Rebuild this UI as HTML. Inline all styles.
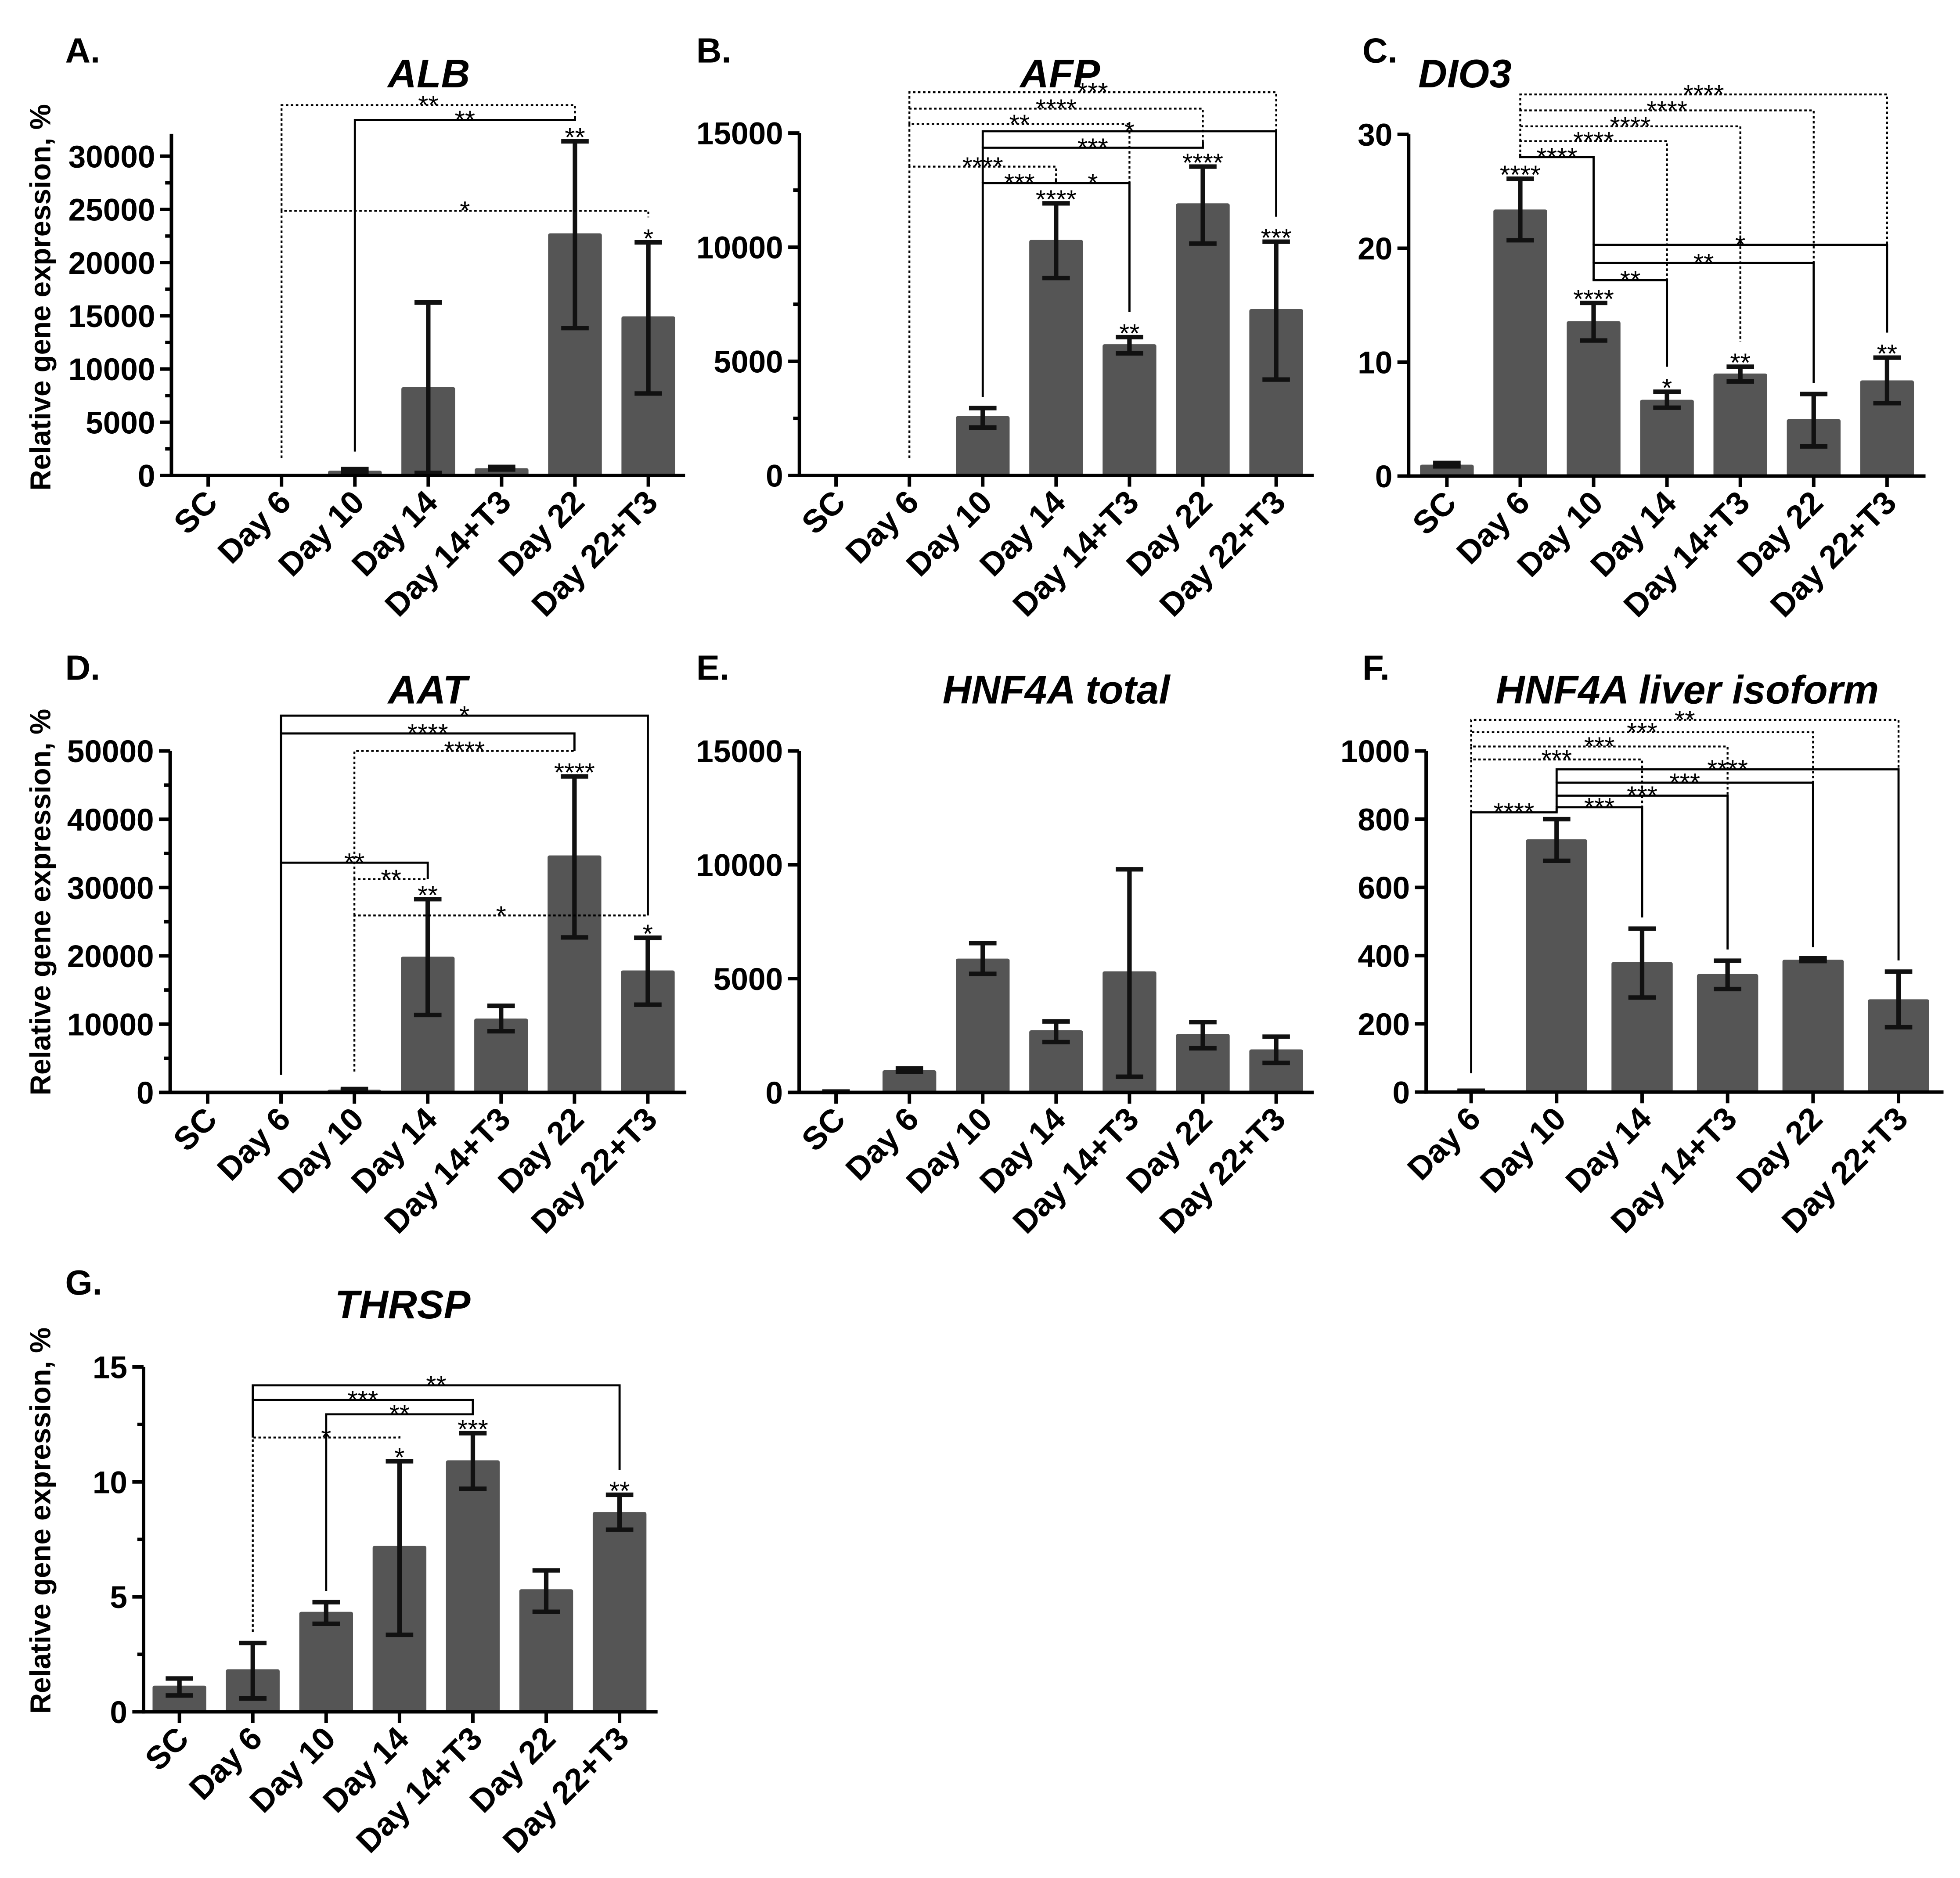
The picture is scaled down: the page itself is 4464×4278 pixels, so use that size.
<!DOCTYPE html>
<html><head><meta charset="utf-8">
<style>
html,body{margin:0;padding:0;background:#fff;}
svg{display:block;}
text{font-family:"Liberation Sans",Arial,sans-serif;}
</style></head>
<body>
<svg id="fig" width="4464" height="4278" viewBox="0 0 1568 1503" xmlns="http://www.w3.org/2000/svg">
<rect x="0" y="0" width="1568" height="1503" fill="#fff"/>
</svg>
<script>
// ---------- data ----------
const cats7 = ['SC','Day 6','Day 10','Day 14','Day 14+T3','Day 22','Day 22+T3'];
const catsF = ['Day 6','Day 10','Day 14','Day 14+T3','Day 22','Day 22+T3'];

const valsA = [0,0,450,8300,680,22750,14950];
const hiA = [0,0,600,16250,800,31400,21900];
const loA = [0,0,300,240,560,13850,7700];
const starsA = ['','','','','','**','*'];
const brFromA = [1,2,1];
const brToA = [5,5,6];
const brLevelA = [34800,33400,24870];
const brLabelA = ['**','**','*'];
const brDotA = [1,0,1];

const valsB = [0,0,2600,10320,5750,11920,7290];
const hiB = [0,0,2950,11920,6060,13530,10240];
const loB = [0,0,2100,8650,5350,10160,4200];
const starsB = ['','','','****','**','****','***'];
const brFromB = [1,1,1,2,2,1,2,3];
const brToB = [6,5,4,6,5,3,3,4];
const brLevelB = [16790,16070,15400,15080,14360,13530,12810,12810];
const brLabelB = ['***','****','**','*','***','****','***','*'];
const brDotB = [1,1,1,0,0,1,0,0];

const valsC = [1.0,23.4,13.6,6.7,9.0,5.0,8.4];
const hiC = [1.15,26.1,15.2,7.4,9.6,7.2,10.4];
const loC = [0.85,20.7,11.9,6.0,8.3,2.6,6.4];
const starsC = ['','****','****','*','**','','**'];
const brFromC = [1,1,1,1,1,2,2,2];
const brToC = [6,5,4,3,2,6,5,3];
const brLevelC = [33.5,32.1,30.7,29.4,28.0,20.3,18.7,17.2];
const brLabelC = ['****','****','****','****','****','*','**','**'];
const brDotC = [1,1,1,1,0,0,0,0];

const valsD = [0,0,400,19880,10820,34700,17860];
const hiD = [0,0,500,28300,12690,46270,22650];
const loD = [0,0,300,11350,8960,22700,12850];
const starsD = ['','','','**','','****','*'];
const brFromD = [1,1,2,1,2,2];
const brToD = [6,5,5,3,3,6];
const brLevelD = [55170,52560,50000,33640,31240,25910];
const brLabelD = ['*','****','****','**','**','*'];
const brDotD = [0,0,1,0,1,1];

const valsE = [30,975,5880,2730,5320,2570,1890];
const hiE = [40,1050,6560,3120,9800,3090,2450];
const loE = [20,900,5210,2210,690,1940,1300];
const starsE = ['','','','','','',''];

const valsF = [3,741,381,346,388,272];
const hiF = [4,800,479,385,392,353];
const loF = [2,678,277,302,384,190];
const starsF = ['','','','','',''];
const brFromF = [0,0,0,0,1,1,1,1,0];
const brToF = [5,4,3,2,5,4,3,2,1];
const brLevelF = [1091,1055,1013,975,946,907,869,835,820];
const brLabelF = ['**','***','***','***','****','***','***','***','****'];
const brDotF = [1,1,1,1,0,0,0,0,0];

const valsG = [1.14,1.85,4.35,7.22,10.94,5.33,8.69];
const hiG = [1.45,2.99,4.77,10.9,12.12,6.15,9.44];
const loG = [0.71,0.58,3.83,3.35,9.7,4.35,7.92];
const starsG = ['','','','*','***','','**'];
const brFromG = [1,1,2,1];
const brToG = [6,4,4,3];
const brLevelG = [14.2,13.56,12.94,11.93];
const brLabelG = ['**','***','**','*'];
const brDotG = [0,0,0,1];

const yTicksA = [0,5000,10000,15000,20000,25000,30000];
const yTicksB = [0,5000,10000,15000];
const yTicksC = [0,10,20,30];
const yTicksD = [0,10000,20000,30000,40000,50000];
const yTicksE = [0,5000,10000,15000];
const yTicksF = [0,200,400,600,800,1000];
const yTicksG = [0,5,10,15];

// ---------- drawing ----------
const svg = document.getElementById('fig');
const NSURI = svg.namespaceURI;
function mk(tag, attrs, parent){
  const e = document.createElementNS(NSURI, tag);
  for (const k in attrs) e.setAttribute(k, attrs[k]);
  (parent||svg).appendChild(e);
  return e;
}

function drawPanel(p){
  const g = mk('g', {});
  
  
  const y = v => p.y0 - v / p.max * (p.y0 - p.yTop);
  const cx = i => p.cx0 + i * p.dx;

  const lt = mk('text', {x:p.letterX, y:p.letterY, 'font-size':28, 'font-weight':'bold'}, g);
  lt.textContent = p.id.toUpperCase() + '.';
  
  
  const tt = mk('text', {x:p.titleX, y:p.titleY, 'font-size':32, 'font-weight':'bold', 'font-style':'italic', 'text-anchor':'middle'}, g);
  tt.textContent = p.title;
  
  
  if (p.ytitleY){
    const yt = mk('text', {x:0, y:0, 'font-size':23, 'font-weight':'bold', 'text-anchor':'middle', transform:'translate(40,' + p.ytitleY + ') rotate(-90)'}, g);
    yt.textContent = 'Relative gene expression, %';
    
    
  }

  p.vals.forEach((v, i) => {
    if (v <= 0) return;
    const b = mk('rect', {x:cx(i) - p.bw/2, y:y(v), width:p.bw, height:p.y0 - y(v), fill:'#555555', rx:1.5}, g);
    
    
  });
  p.vals.forEach((v, i) => {
    if (p.hi[i] - p.lo[i] <= 0) return;
    const eg = mk('g', {stroke:'#111', 'stroke-width':3.6}, g);
    
    
    mk('line', {x1:cx(i), x2:cx(i), y1:y(p.hi[i]), y2:y(p.lo[i])}, eg);
    mk('line', {x1:cx(i) - 11, x2:cx(i) + 11, y1:y(p.hi[i]), y2:y(p.hi[i])}, eg);
    mk('line', {x1:cx(i) - 11, x2:cx(i) + 11, y1:y(p.lo[i]), y2:y(p.lo[i])}, eg);
  });

  const ax = mk('g', {stroke:'#000', 'stroke-width':2.8, fill:'none'}, g);
  
  
  mk('line', {x1:p.x0, x2:p.x0, y1:y(p.axisTop), y2:p.y0 + 1.4}, ax);
  mk('line', {x1:p.x0 - 1.4, x2:p.xEnd, y1:p.y0, y2:p.y0}, ax);
  p.ticks.forEach(v => {
    mk('line', {x1:p.x0 - 9, x2:p.x0, y1:y(v), y2:y(v)}, ax);
    const t = mk('text', {x:p.x0 - 13, y:y(v) + 9, 'font-size':25, 'font-weight':'bold', 'text-anchor':'end', stroke:'none', fill:'#000'}, g);
    t.textContent = String(v);
    
    
  });
  if (p.minor){
    for (let v = p.minor; v < p.max; v += p.minor * 2){
      mk('line', {x1:p.x0 - 5, x2:p.x0, y1:y(v), y2:y(v)}, ax);
    }
  }
  p.cats.forEach((c, i) => {
    mk('line', {x1:cx(i), x2:cx(i), y1:p.y0, y2:p.y0 + 9}, ax);
    const lx = cx(i) + 9, ly = p.y0 + 23;
    const t = mk('text', {x:0, y:0, 'font-size':26, 'font-weight':'bold', 'text-anchor':'end', transform:'translate(' + lx + ',' + ly + ') rotate(-45)'}, g);
    t.textContent = c;
    
    
  });

  p.stars.forEach((s, i) => {
    if (!s) return;
    const t = mk('text', {x:cx(i), y:y(p.hi[i]) + 4, 'font-size':21, 'text-anchor':'middle'}, g);
    t.textContent = s;
    
    
  });

  if (p.brFrom){
    const endBottom = (c, lev) => {
      let best = null;
      p.brLevel.forEach((L, k) => {
        if (L < lev && (p.brFrom[k] === c || p.brTo[k] === c)) {
          if (best === null || L > best) best = L;
        }
      });
      if (best !== null) return y(best);
      const gap = p.stars[c] ? 20 : (p.hi[c] > 0.02 * p.max ? 9 : 14);
      return y(p.hi[c]) - gap;
    };
    p.brFrom.forEach((f, k) => {
      const t2 = p.brTo[k], L = p.brLevel[k];
      const bg = mk('g', {stroke:'#000', 'stroke-width':p.brDot[k] ? 1.5 : 1.7, fill:'none', 'stroke-dasharray':p.brDot[k] ? '2 2' : 'none'}, g);
      
      
      mk('polyline', {points: cx(f) + ',' + endBottom(f, L) + ' ' + cx(f) + ',' + y(L) + ' ' + cx(t2) + ',' + y(L) + ' ' + cx(t2) + ',' + endBottom(t2, L)}, bg);
      const st = mk('text', {x:(cx(f) + cx(t2)) / 2, y:y(L) + 7, 'font-size':21, 'text-anchor':'middle'}, g);
      st.textContent = p.brLabel[k];
      
      
    });
  }
}

drawPanel({id:'a', title:'ALB', titleX:343, titleY:70, letterX:52, letterY:50, ytitleY:238,
  x0:137, xEnd:548, y0:380.5, yTop:125, max:30000, axisTop:32100, minor:2500, ticks:yTicksA,
  cx0:166.4, dx:58.7, bw:43, cats:cats7, vals:valsA, hi:hiA, lo:loA, stars:starsA,
  brFrom:brFromA, brTo:brToA, brLevel:brLevelA, brLabel:brLabelA, brDot:brDotA});
drawPanel({id:'b', title:'AFP', titleX:848, titleY:70, letterX:557, letterY:50, ytitleY:0,
  x0:639.5, xEnd:1051, y0:380.5, yTop:106.5, max:15000, axisTop:15000, minor:2500, ticks:yTicksB,
  cx0:668.8, dx:58.7, bw:43, cats:cats7, vals:valsB, hi:hiB, lo:loB, stars:starsB,
  brFrom:brFromB, brTo:brToB, brLevel:brLevelB, brLabel:brLabelB, brDot:brDotB});
drawPanel({id:'c', title:'DIO3', titleX:1172, titleY:70, letterX:1090, letterY:50, ytitleY:0,
  x0:1127, xEnd:1540.6, y0:381, yTop:107.5, max:30, axisTop:30, minor:0, ticks:yTicksC,
  cx0:1157.6, dx:58.7, bw:43, cats:cats7, vals:valsC, hi:hiC, lo:loC, stars:starsC,
  brFrom:brFromC, brTo:brToC, brLevel:brLevelC, brLabel:brLabelC, brDot:brDotC});
drawPanel({id:'d', title:'AAT', titleX:342, titleY:563, letterX:52, letterY:544, ytitleY:722,
  x0:136, xEnd:549, y0:874.3, yTop:601, max:50000, axisTop:50000, minor:5000, ticks:yTicksD,
  cx0:166, dx:58.7, bw:43, cats:cats7, vals:valsD, hi:hiD, lo:loD, stars:starsD,
  brFrom:brFromD, brTo:brToD, brLevel:brLevelD, brLabel:brLabelD, brDot:brDotD});
drawPanel({id:'e', title:'HNF4A total', titleX:845, titleY:563, letterX:557, letterY:544, ytitleY:0,
  x0:639.3, xEnd:1051, y0:874.3, yTop:601, max:15000, axisTop:15000, minor:0, ticks:yTicksE,
  cx0:668.8, dx:58.7, bw:43, cats:cats7, vals:valsE, hi:hiE, lo:loE, stars:starsE});
drawPanel({id:'f', title:'HNF4A liver isoform', titleX:1350, titleY:563, letterX:1090, letterY:544, ytitleY:0,
  x0:1141, xEnd:1555, y0:874, yTop:601, max:1000, axisTop:1000, minor:0, ticks:yTicksF,
  cx0:1177, dx:68.4, bw:49, cats:catsF, vals:valsF, hi:hiF, lo:loF, stars:starsF,
  brFrom:brFromF, brTo:brToF, brLevel:brLevelF, brLabel:brLabelF, brDot:brDotF});
drawPanel({id:'g', title:'THRSP', titleX:322, titleY:1055, letterX:52, letterY:1036, ytitleY:1217,
  x0:114.7, xEnd:526, y0:1370, yTop:1094, max:15, axisTop:15, minor:2.5, ticks:yTicksG,
  cx0:143.4, dx:58.7, bw:43, cats:cats7, vals:valsG, hi:hiG, lo:loG, stars:starsG,
  brFrom:brFromG, brTo:brToG, brLevel:brLevelG, brLabel:brLabelG, brDot:brDotG});
</script>
</body></html>
